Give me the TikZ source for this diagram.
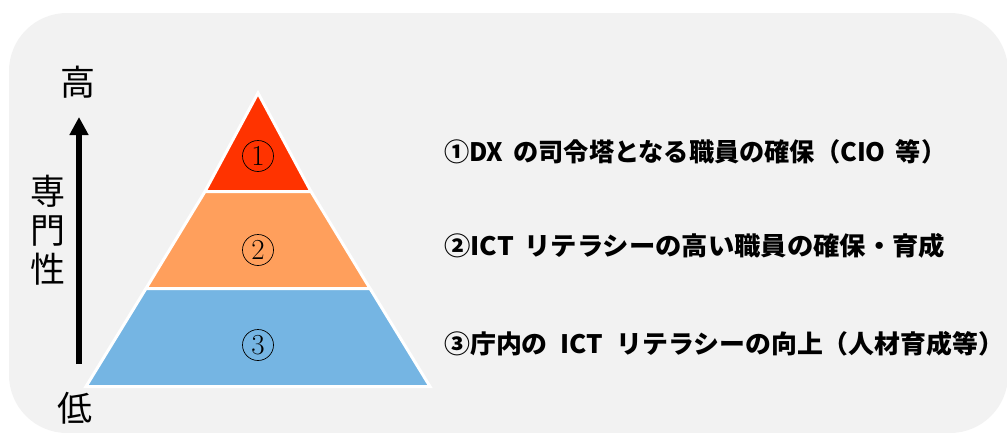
\documentclass[tikz,border=0pt]{standalone}
\usepackage{graphicx}
\usepackage{fontspec}
\newfontfamily\jp{Noto Sans CJK JP}
\usetikzlibrary{arrows.meta}
\definecolor{bgc}{HTML}{F2F2F2}
\definecolor{layA}{HTML}{FF3300}
\definecolor{layB}{HTML}{FF9F5C}
\definecolor{layC}{HTML}{75B5E3}
\begin{document}
\begin{tikzpicture}[x=1pt,y=-1pt,
  layer/.style={draw=white,line width=3pt,line join=miter},
  num/.style={circle,draw=black,line width=0.7pt,minimum size=31pt,inner sep=0pt,font=\fontsize{29}{29}\selectfont},
  axislbl/.style={font=\jp\fontsize{35}{39}\selectfont,align=center,inner sep=0pt},
  item/.style={anchor=west,font=\jp\bfseries\fontsize{25.4}{26}\selectfont,inner sep=0pt}]
\useasboundingbox (0,0) rectangle (1007,432);
\fill[bgc,rounded corners=58pt] (9,13) rectangle (1008,433);
% pyramid layers
\filldraw[layer,fill=layA] (258,93) -- (205,191.5) -- (311,191.5) -- cycle;
\filldraw[layer,fill=layB] (205,191.5) -- (146,288.5) -- (370,288.5) -- (311,191.5) -- cycle;
\filldraw[layer,fill=layC] (146,288.5) -- (86,386.5) -- (430,386.5) -- (370,288.5) -- cycle;
\node[num] (n1) at (258,156) {1};
\node[num] (n2) at (258,250) {2};
\node[num] (n3) at (258,345) {3};
% axis
\coordinate (lo) at (79,364);
\coordinate (hi) at (79,117);
\draw[line width=6pt,-{Triangle[width=18pt,length=18pt]}] (lo) -- (hi);
\node[axislbl] (high) at (78,82) {高};
\node[axislbl] (expert) at (48,230) {専\\門\\性};
\node[axislbl] (low) at (75,408) {低};
% items
\node[item] (t1) at (444,152) {\resizebox{502pt}{\height}{①DX\hspace{.4em}の司令塔となる職員の確保（CIO\hspace{.4em}等）}};
\node[item] (t2) at (444,246) {\resizebox{501pt}{\height}{②ICT\hspace{.4em}リテラシーの高い職員の確保・育成}};
\node[item] (t3) at (444,344) {\resizebox{560pt}{\height}{③庁内の\hspace{.5em}ICT\hspace{.5em}リテラシーの向上（人材育成等）}};
\end{tikzpicture}
\end{document}
